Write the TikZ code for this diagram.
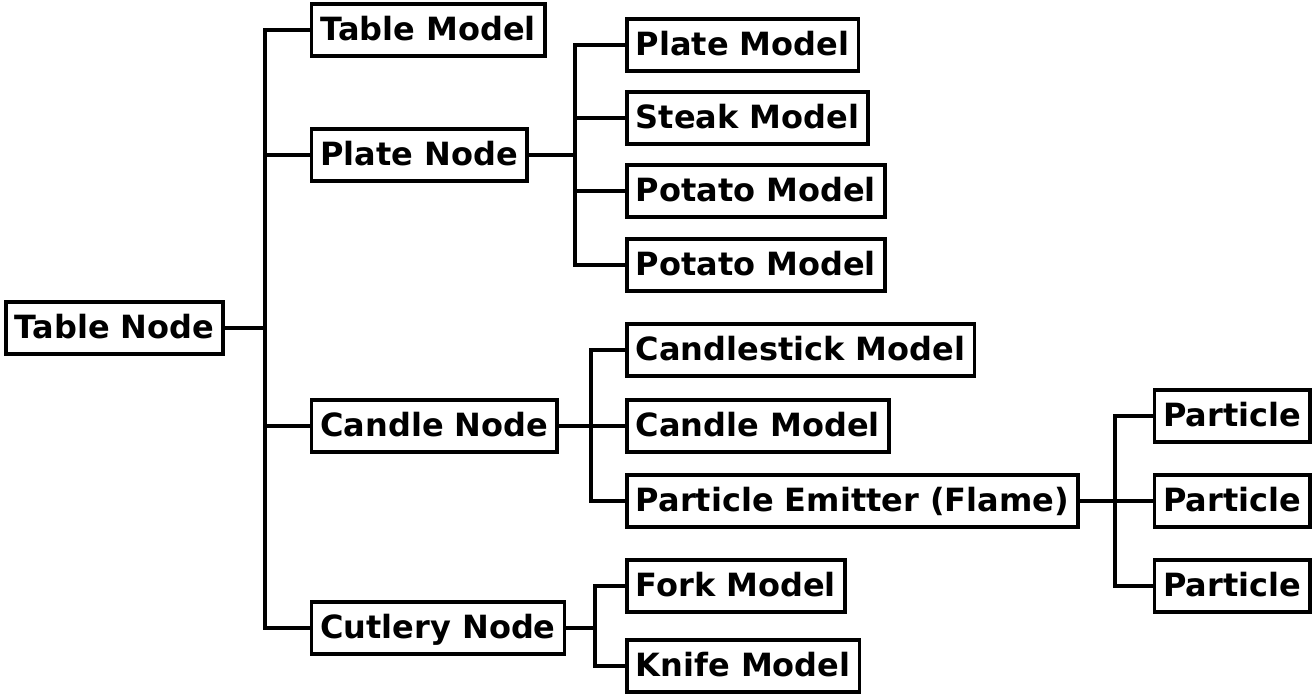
\documentclass[tikz,border=0pt]{standalone}
\usepackage{fontspec}
\setmainfont{DejaVu Sans}
\begin{document}
\begin{tikzpicture}[x=1pt,y=-1pt,
  box/.style={draw=black, line width=3.6pt, anchor=west, font=\bfseries\fontsize{32}{38}\selectfont,
    inner xsep=9pt, inner ysep=0pt, text height=25pt, text depth=5pt, minimum height=52pt},
  con/.style={line width=3.6pt}]
\useasboundingbox (0,0) rectangle (1312,697);
% level 0
\node[box] (tn) at (4,328) {Table Node};
% level 1
\node[box] (tm) at (309.5,30) {Table Model};
\node[box] (pn) at (309.5,155) {Plate Node};
\node[box] (cn) at (309.5,426) {Candle Node};
\node[box] (cun) at (309.5,628) {Cutlery Node};
% plate children
\node[box] (pm) at (625,45) {Plate Model};
\node[box] (sm) at (625,118) {Steak Model};
\node[box] (po1) at (625,191) {Potato Model};
\node[box] (po2) at (625,265) {Potato Model};
% candle children
\node[box] (csm) at (625,350) {Candlestick Model};
\node[box] (cm) at (625,426) {Candle Model};
\node[box] (pe) at (625,501) {Particle Emitter (Flame)};
% particles
\node[box] (p1) at (1152.5,416) {Particle};
\node[box] (p2) at (1152.5,501) {Particle};
\node[box] (p3) at (1152.5,586) {Particle};
% cutlery children
\node[box] (fm) at (625,586) {Fork Model};
\node[box] (km) at (625,666) {Knife Model};
% branch coordinates
\coordinate (b1) at (265,0);
\coordinate (b2) at (575,0);
\coordinate (b3) at (591,0);
\coordinate (b4) at (1115,0);
\coordinate (b5) at (595,0);
% connectors
\draw[con] (tn.east) -- (tn.east -| b1);
\draw[con] (tm.west) -- (tm.west -| b1) -- (cun.west -| b1) -- (cun.west);
\draw[con] (pn.west) -- (pn.west -| b1);
\draw[con] (cn.west) -- (cn.west -| b1);
\draw[con] (pn.east) -- (pn.east -| b2);
\draw[con] (pm.west) -- (pm.west -| b2) -- (po2.west -| b2) -- (po2.west);
\draw[con] (sm.west) -- (sm.west -| b2);
\draw[con] (po1.west) -- (po1.west -| b2);
\draw[con] (cn.east) -- (cn.east -| b3);
\draw[con] (csm.west) -- (csm.west -| b3) -- (pe.west -| b3) -- (pe.west);
\draw[con] (cm.west) -- (cm.west -| b3);
\draw[con] (pe.east) -- (pe.east -| b4);
\draw[con] (p1.west) -- (p1.west -| b4) -- (p3.west -| b4) -- (p3.west);
\draw[con] (p2.west) -- (p2.west -| b4);
\draw[con] (cun.east) -- (cun.east -| b5);
\draw[con] (fm.west) -- (fm.west -| b5) -- (km.west -| b5) -- (km.west);
\end{tikzpicture}
\end{document}
